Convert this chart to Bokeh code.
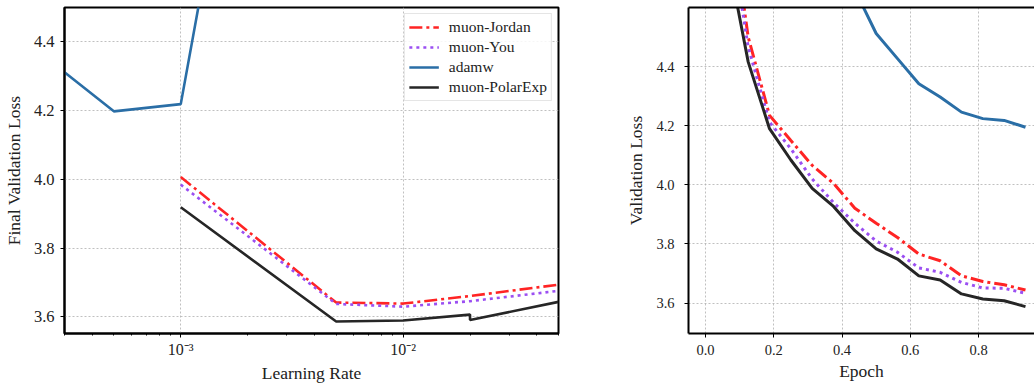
from bokeh.plotting import figure
from bokeh.layouts import row
from bokeh.models import (FixedTicker, Legend, LegendItem, LinearAxis, PrintfTickFormatter, Range1d)
from bokeh.embed import file_html
from bokeh.resources import INLINE

# ---------------- data: left panel (learning-rate sweep) ----------------
lr_adamw = [3e-4, 5e-4, 1e-3, 2e-3, 5e-3]
loss_adamw = [4.312, 4.198, 4.219, 5.29, 6.2]

lr_muon = [1e-3, 5e-3, 1e-2, 2e-2, 5e-2]
loss_jordan = [4.007, 3.642, 3.639, 3.661, 3.694]
loss_you = [3.985, 3.638, 3.630, 3.646, 3.676]

lr_polar = [1e-3, 5e-3, 1e-2, 2e-2, 2e-2, 5e-2]
loss_polar = [3.919, 3.587, 3.590, 3.607, 3.591, 3.644]

lr_major_ticks = [1e-3, 1e-2]
lr_minor_ticks = [3e-4, 4e-4, 5e-4, 6e-4, 7e-4, 8e-4, 9e-4,
                  2e-3, 3e-3, 4e-3, 5e-3, 6e-3, 7e-3, 8e-3, 9e-3,
                  2e-2, 3e-2, 4e-2, 5e-2]
lr_tick_labels = {1e-3: "10\u207b\u00b3", 1e-2: "10\u207b\u00b2"}
loss_ticks = [3.6, 3.8, 4.0, 4.2, 4.4]

# ---------------- data: right panel (training curves) ----------------
epoch = [0.0, 0.0625, 0.125, 0.1875, 0.25, 0.3125, 0.375, 0.4375,
         0.5, 0.5625, 0.625, 0.6875, 0.75, 0.8125, 0.875, 0.9375]
val_polar = [10.8, 4.79, 4.416, 4.190, 4.084, 3.988, 3.927, 3.845,
             3.783, 3.749, 3.692, 3.678, 3.631, 3.614, 3.608, 3.588]
val_you = [10.8, 4.93, 4.466, 4.212, 4.122, 4.020, 3.940, 3.870,
           3.810, 3.772, 3.719, 3.704, 3.670, 3.651, 3.650, 3.633]
val_jordan = [10.8, 5.02, 4.50, 4.235, 4.150, 4.066, 4.005, 3.921,
              3.870, 3.822, 3.766, 3.743, 3.692, 3.673, 3.662, 3.644]
val_adamw = [10.8, 7.6, 6.6, 5.9, 5.4, 5.05, 4.82, 4.66,
             4.512, 4.427, 4.342, 4.297, 4.246, 4.224, 4.218, 4.195]
epoch_ticks = [0.0, 0.2, 0.4, 0.6, 0.8]

# ---------------- styles ----------------
RED = "#ff2424"
PURPLE = "#9b4ff2"
BLUE = "#2a6ea6"
BLACK = "#262626"
FONT = "Liberation Serif"
TXT = "#222222"


def style_axis(ax, size, standoff):
    ax.axis_line_width = 2
    ax.axis_line_color = "black"
    ax.major_tick_line_color = "black"
    ax.minor_tick_line_color = "black"
    ax.major_tick_out = 4
    ax.major_tick_in = 0
    ax.minor_tick_out = 2
    ax.minor_tick_in = 0
    ax.major_label_standoff = standoff
    ax.major_label_text_font = FONT
    ax.major_label_text_font_size = size
    ax.major_label_text_color = TXT
    ax.axis_label_text_font = FONT
    ax.axis_label_text_font_style = "normal"
    ax.axis_label_text_font_size = "17.5px"
    ax.axis_label_text_color = TXT


def style_grid(p):
    for g in (p.xgrid, p.ygrid):
        g.grid_line_color = "#b0b0b0"
        g.grid_line_dash = "2 2"
        g.grid_line_width = 0.8


# ---------------- left figure ----------------
p1 = figure(width=600, height=385, x_axis_type="log",
            x_range=Range1d(3e-4, 5e-2), y_range=Range1d(3.552, 4.50),
            output_backend="svg", toolbar_location=None,
            min_border_left=61, min_border_right=42,
            min_border_top=5, min_border_bottom=49)
p1.outline_line_color = "black"
p1.outline_line_width = 2
p1.background_fill_color = "white"

xa1 = p1.below[0]
ya1 = p1.left[0]
xa1.ticker = FixedTicker(ticks=lr_major_ticks, minor_ticks=lr_minor_ticks)
xa1.major_label_overrides = lr_tick_labels
ya1.ticker = FixedTicker(ticks=loss_ticks)
ya1.formatter = PrintfTickFormatter(format="%.1f")
xa1.axis_label = "Learning Rate"
ya1.axis_label = "Final Validation Loss"
style_axis(xa1, "16px", 3)
style_axis(ya1, "16.5px", 6)
xa1.axis_label_standoff = 2
ya1.axis_label_standoff = 7
style_grid(p1)

r_j = p1.line(lr_muon, loss_jordan, line_color=RED, line_width=2.6, line_dash="13 4 3 4")
r_y = p1.line(lr_muon, loss_you, line_color=PURPLE, line_width=2.6, line_dash="3 4")
r_a = p1.line(lr_adamw, loss_adamw, line_color=BLUE, line_width=2.6)
r_p = p1.line(lr_polar, loss_polar, line_color=BLACK, line_width=2.6)

legend = Legend(items=[LegendItem(label="muon-Jordan", renderers=[r_j]),
                       LegendItem(label="muon-You", renderers=[r_y]),
                       LegendItem(label="adamw", renderers=[r_a]),
                       LegendItem(label="muon-PolarExp", renderers=[r_p])],
                location="top_right")
legend.label_text_font = FONT
legend.label_text_font_size = "15.5px"
legend.label_text_color = TXT
legend.glyph_width = 30
legend.glyph_height = 18
legend.label_height = 18
legend.label_standoff = 10
legend.spacing = 2
legend.padding = 4
legend.margin = 6
legend.border_line_color = "#cccccc"
legend.border_line_width = 1
legend.background_fill_alpha = 0.85
p1.add_layout(legend)

# ---------------- right figure ----------------
p2 = figure(width=434, height=385,
            x_range=Range1d(-0.0499, 0.9639), y_range=Range1d(3.497, 4.60),
            output_backend="svg", toolbar_location=None,
            min_border_left=88, min_border_right=0,
            min_border_top=7, min_border_bottom=52)
p2.outline_line_color = None
p2.background_fill_color = "white"

xa2 = p2.below[0]
ya2 = p2.left[0]

top = LinearAxis(ticker=FixedTicker(ticks=[]))
top.axis_line_width = 2
top.axis_line_color = "black"
top.major_tick_out = 0
top.major_tick_in = 0
top.minor_tick_out = 0
top.major_label_standoff = 0
top.major_label_text_font_size = "0px"
p2.add_layout(top, "above")

xa2.ticker = FixedTicker(ticks=epoch_ticks)
xa2.formatter = PrintfTickFormatter(format="%.1f")
ya2.ticker = FixedTicker(ticks=loss_ticks)
ya2.formatter = PrintfTickFormatter(format="%.1f")
xa2.axis_label = "Epoch"
ya2.axis_label = "Validation Loss"
style_axis(xa2, "14.5px", 7)
style_axis(ya2, "14.5px", 10)
xa2.axis_label_standoff = 3
ya2.axis_label_standoff = 7
p2.xgrid.ticker = FixedTicker(ticks=epoch_ticks)
style_grid(p2)

p2.line(epoch, val_jordan, line_color=RED, line_width=3, line_dash="13 4 3 4")
p2.line(epoch, val_you, line_color=PURPLE, line_width=3, line_dash="3 4")
p2.line(epoch, val_adamw, line_color=BLUE, line_width=3)
p2.line(epoch, val_polar, line_color=BLACK, line_width=3)

layout = row(p1, p2, spacing=0)
open("out.html", "w").write(file_html(layout, INLINE))
